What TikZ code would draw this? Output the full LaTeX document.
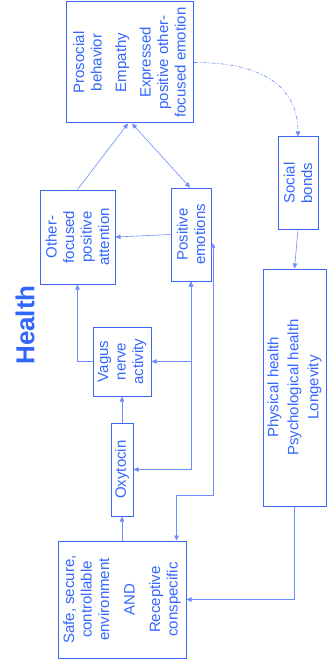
\documentclass[tikz,border=0pt]{standalone}
\usepackage{fontspec}
\setmainfont{Liberation Sans}
\usetikzlibrary{arrows.meta,calc}
\definecolor{txtblue}{RGB}{51,102,255}
\definecolor{boxblue}{RGB}{60,100,245}
\definecolor{lineblue}{RGB}{110,140,255}
\begin{document}
\begin{tikzpicture}[x=1pt,y=-1pt,
  >={Triangle[length=5pt,width=4.5pt]},
  box/.style={draw=boxblue,line width=1pt,inner sep=0pt},
  txt/.style={rotate=90,align=center,inner sep=0pt,text=txtblue,
    font=\fontsize{15}{17.5}\selectfont},
  conn/.style={draw=lineblue,line width=0.6pt,fill=none},
  dashdotline/.style={draw=lineblue,line width=0.6pt,dash pattern=on 4pt off 2pt on 1pt off 2pt}
]
\useasboundingbox (0,0) rectangle (328,671);
\fill[white] (0,0) rectangle (328,671);

% title fragment
\node[text=txtblue,inner sep=0pt,rotate=90,font=\fontsize{26}{30}\selectfont\bfseries] (title) at (25,325) {Health};

% boxes
\node[box,minimum width=127pt,minimum height=121pt] (pro) at (129.5,62.5) {};
\node[txt] (proT) at (pro) {Prosocial\\behavior\\[7pt]Empathy\\[7pt]Expressed\\positive other-\\focused emotion};
\node[box,minimum width=40pt,minimum height=92pt] (soc) at (298,183) {};
\node[txt] (socT) at (soc) {Social\\bonds};
\node[box,minimum width=75pt,minimum height=94pt] (oth) at (77.5,237) {};
\node[txt] (othT) at (oth) {Other-\\focused\\positive\\attention};
\node[box,minimum width=40pt,minimum height=93pt] (pos) at (191,234.5) {};
\node[txt] (posT) at (pos) {Positive\\emotions};
\node[box,minimum width=58pt,minimum height=69pt] (vag) at (122,361.5) {};
\node[txt] (vagT) at (vag) {Vagus\\nerve\\activity};
\node[box,minimum width=22pt,minimum height=93pt] (oxy) at (122,469.5) {};
\node[txt] (oxyT) at (oxy) {Oxytocin};
\node[box,minimum width=128pt,minimum height=117pt] (safe) at (122,599.5) {};
\node[txt] (safeT) at (safe) {Safe, secure,\\controllable\\environment\\[8pt]AND\\[8pt]Receptive\\conspecific};
\node[box,minimum width=63pt,minimum height=237pt] (phy) at (294.5,387.5) {};
\node[txt] (phyT) at (phy) {Physical health\\[2.5pt]Psychological health\\[2.5pt]Longevity};

% connectors
\draw[conn,->] (oth.north) -- ([xshift=-1.5pt]pro.south);
\draw[conn,<->] ([xshift=2.5pt]pro.south) -- ([xshift=-1pt]pos.north);
\draw[conn,->] (pos.west) -- (oth.east);
\draw[conn,->] (vag.west) -| (oth.south);
\draw[conn,<->] (pos.south) |- (vag.east);
\draw[conn,<->] (pos.south) |- (oxy.east);
\draw[conn,->] (oxy.north) -- (vag.south);
\draw[conn,->] (safe.north) -- (oxy.south);
\coordinate (pe) at (213,243);
\coordinate (sa) at ($(safe.north east)+(-10,0)$);
\draw[conn,<->] (sa) -- ++(0,-45) -| (pe);
\draw[conn,->] (soc.south) -- (phy.north);
\draw[conn,->] (phy.south) |- (safe.east);
\draw[dashdotline,->] (pro.east) .. controls (260,62) and (298,85) .. (soc.north);
\end{tikzpicture}
\end{document}
